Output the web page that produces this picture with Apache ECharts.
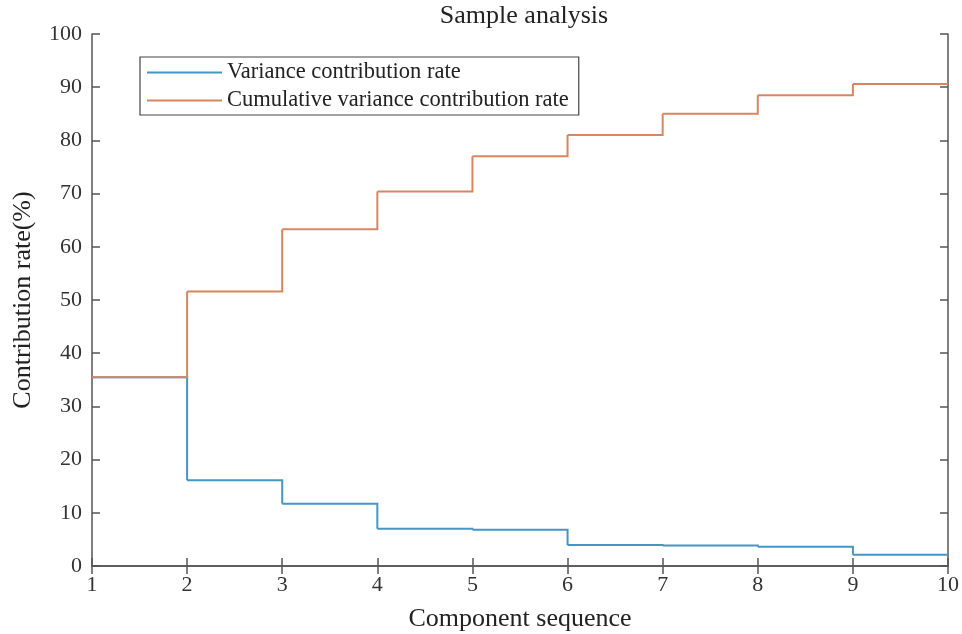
<!DOCTYPE html>
<html>
<head>
<meta charset="utf-8">
<script src="https://cdn.jsdelivr.net/npm/echarts@6/dist/echarts.min.js"></script>
<style>
  html, body { margin: 0; padding: 0; background: #fff; }
  #chart { width: 962px; height: 634px; }
</style>
</head>
<body>
<div id="chart"></div>
<script>
// component index on the x axis
const components = [1, 2, 3, 4, 5, 6, 7, 8, 9, 10];
// contribution rates (%)
const varianceRate = [35.5, 16.1, 11.7, 7.0, 6.8, 3.95, 3.85, 3.6, 2.1, 2.1];
const cumulativeRate = [35.5, 51.6, 63.3, 70.4, 77.0, 81.0, 85.0, 88.5, 90.6, 90.6];
const yTicks = [0, 10, 20, 30, 40, 50, 60, 70, 80, 90, 100];

const font = 'Liberation Serif';
const axisColor = '#555';
const blue = '#4496c6';
const orange = '#d9855f';

const chart = echarts.init(document.getElementById('chart'));

// box around the plot with ticks pointing inward, like matlab
function boxAxis(extra) {
  return Object.assign({
    type: 'value',
    axisLine: { show: true, lineStyle: { color: axisColor, width: 1.5 } },
    axisTick: { show: true, inside: true, length: 8, lineStyle: { color: axisColor, width: 1.5 } },
    splitLine: { show: false },
    axisLabel: { show: false }
  }, extra);
}

// one stair per item: [x, y, nextX, nextY]
function stairs(values) {
  return components.slice(0, -1).map((c, i) => [c, values[i], components[i + 1], values[i + 1]]);
}

// drawn as a custom series, the line series drops the tiny 1px risers
function stairSeries(name, values, color) {
  return {
    name: name,
    type: 'custom',
    itemStyle: { color: color },
    encode: { x: [0, 2], y: [1, 3] },
    data: stairs(values),
    renderItem: function (params, api) {
      const a = api.coord([api.value(0), api.value(1)]);
      const b = api.coord([api.value(2), api.value(1)]);
      const c = api.coord([api.value(2), api.value(3)]);
      return {
        type: 'polyline',
        shape: { points: [a, b, c] },
        style: { stroke: color, lineWidth: 2, fill: null, lineJoin: 'miter' }
      };
    }
  };
}

const lineIcon = 'path://M0,0H40V1H0Z';

chart.setOption({
  animation: false,
  backgroundColor: '#fff',
  title: {
    text: 'Sample analysis',
    left: 519,
    textAlign: 'center',
    top: -2,
    textStyle: { fontFamily: font, fontSize: 26, fontWeight: 'normal', color: '#222' }
  },
  legend: {
    orient: 'vertical',
    left: 140,
    top: 57,
    itemWidth: 75,
    itemHeight: 2,
    itemGap: 5,
    padding: [4, 10, 3, 7],
    borderColor: '#444',
    borderWidth: 1.2,
    backgroundColor: '#fff',
    textStyle: { fontFamily: font, fontSize: 22.5, color: '#222' },
    data: [
      { name: 'Variance contribution rate', icon: lineIcon },
      { name: 'Cumulative variance contribution rate', icon: lineIcon }
    ]
  },
  grid: { left: 92, right: 14, top: 34, bottom: 68, outerBoundsMode: 'none', containLabel: false },
  xAxis: [
    boxAxis({
      min: 1, max: 10, interval: 1,
      name: 'Component sequence',
      nameLocation: 'middle',
      nameGap: 40,
      nameTextStyle: { fontFamily: font, fontSize: 26, color: '#222' },
      axisLabel: { show: true, fontFamily: font, fontSize: 22, color: '#333', margin: 8 }
    }),
    boxAxis({ min: 1, max: 10, interval: 1, position: 'top' })
  ],
  yAxis: [
    boxAxis({
      min: yTicks[0], max: yTicks[yTicks.length - 1], interval: 10,
      name: 'Contribution rate(%)',
      nameLocation: 'middle',
      nameGap: 56,
      nameTextStyle: { fontFamily: font, fontSize: 26, color: '#222' },
      axisLabel: { show: true, fontFamily: font, fontSize: 22, color: '#333', margin: 10 }
    }),
    boxAxis({ min: 0, max: 100, interval: 10, position: 'right' })
  ],
  series: [
    stairSeries('Variance contribution rate', varianceRate, blue),
    stairSeries('Cumulative variance contribution rate', cumulativeRate, orange)
  ]
});
</script>
</body>
</html>
